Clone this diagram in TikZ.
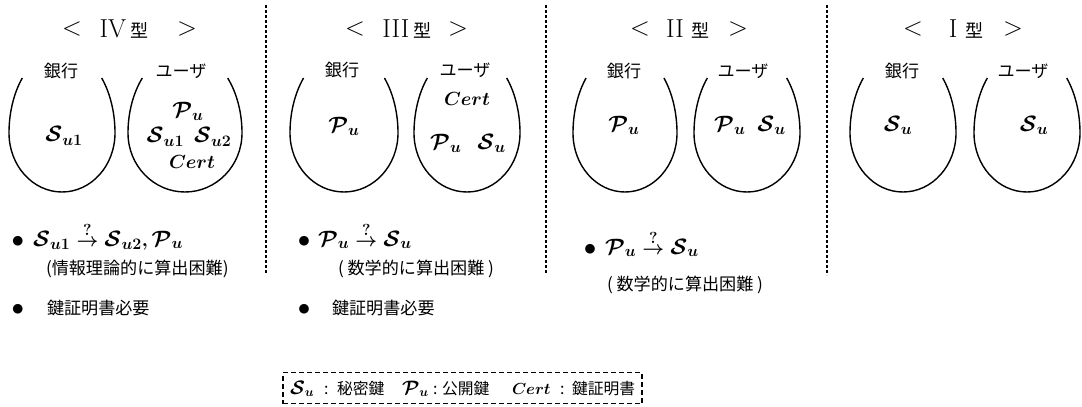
\RequirePackage{fix-cm}
\documentclass[tikz,border=0pt]{standalone}
\usepackage{amsmath}
\usepackage{fontspec}
\newfontfamily\cjk{Noto Sans CJK JP}[Scale=0.9]
\DeclareMathSizes{19}{19}{16}{12}
\DeclareMathSizes{15}{15}{13}{10}
\DeclareMathSizes{16}{16}{13}{10}
\newcommand\bigcal[1]{\scalebox{1.17}{$\mathcal{#1}$}}
\newcommand\lgcal[1]{\scalebox{1.3}{$\mathcal{#1}$}}
\newcommand\drawegg[2]{%
  \draw[eggline] (#1,133) ++(221.5:#2 and 83)
    arc[start angle=221.5,end angle=180,x radius=#2,y radius=83]
    arc[start angle=180,end angle=0,x radius=#2,y radius=59]
    arc[start angle=0,end angle=-41.5,x radius=#2,y radius=83];}
\begin{document}
\begin{tikzpicture}[x=1pt,y=-1pt,
  every node/.style={inner sep=0pt,outer sep=0pt,font=\fontsize{19}{22}\selectfont\boldmath},
  ttl/.style={font=\fontsize{26}{30}\selectfont},
  lbl/.style={font=\cjk\fontsize{19}{22}\selectfont},
  txt/.style={anchor=base west,font=\cjk\fontsize{19}{22}\selectfont},
  mth/.style={anchor=base west},
  bul/.style={anchor=base,font=\fontsize{25}{28}\selectfont},
  lgm/.style={anchor=base west,font=\fontsize{15}{18}\selectfont\boldmath},
  lgi/.style={anchor=base west,font=\fontsize{16}{19}\selectfont\boldmath},
  lgc/.style={anchor=base west,font=\cjk\fontsize{17.5}{20}\selectfont},
  eggline/.style={line width=1.4pt},
  sepline/.style={line width=1.3pt,dash pattern=on 3pt off 2pt},
  legendbox/.style={draw,line width=1.1pt,dash pattern=on 5pt off 3pt,minimum width=359pt,minimum height=31pt}]
\useasboundingbox (0,0) rectangle (1082,407);

% separators
\coordinate (s1a) at (266,5); \coordinate (s1b) at (266,273);
\coordinate (s2a) at (546,5); \coordinate (s2b) at (546,273);
\coordinate (s3a) at (827,5); \coordinate (s3b) at (827,275);
\draw[sepline] (s1a) -- (s1b);
\draw[sepline] (s2a) -- (s2b);
\draw[sepline] (s3a) -- (s3b);

% titles
\node[ttl] (t4l) at (72,29) {$<$};
\node[ttl] (t4m) at (124,29) {IV\,{\cjk\fontsize{20}{22}\selectfont 型}};
\node[ttl] (t4r) at (187,29) {$>$};
\node[ttl] (t3l) at (355,29) {$<$};
\node[ttl] (t3m) at (407,29) {III\,{\cjk\fontsize{20}{22}\selectfont 型}};
\node[ttl] (t3r) at (458,29) {$>$};
\node[ttl] (t2l) at (640,29) {$<$};
\node[ttl] (t2m) at (688,29) {II\ {\cjk\fontsize{20}{22}\selectfont 型}};
\node[ttl] (t2r) at (738,29) {$>$};
\node[ttl] (t1l) at (913,29) {$<$};
\node[ttl] (t1m) at (966,29) {I\ {\cjk\fontsize{20}{22}\selectfont 型}};
\node[ttl] (t1r) at (1013,29) {$>$};

% eggs
\drawegg{62}{53}  \drawegg{185}{57}
\drawegg{344}{54} \drawegg{467}{53}
\drawegg{625}{52} \drawegg{747}{53}
\drawegg{903}{53} \drawegg{1027}{53}

% labels
\node[lbl] (b4) at (61,71) {銀行};   \node[lbl] (u4) at (181,71) {ユーザ};
\node[lbl] (b3) at (342,70) {銀行};  \node[lbl] (u3) at (465,70) {ユーザ};
\node[lbl] (b2) at (624,71) {銀行};  \node[lbl] (u2) at (743,71) {ユーザ};
\node[lbl] (b1) at (902,71) {銀行};  \node[lbl] (u1) at (1023,71) {ユーザ};

% contents
\node (c4b) at (64,136) {$\bigcal{S}_{u1}$};
\node (c4u1) at (188,111) {$\bigcal{P}_u$};
\node (c4u2) at (189,137) {$\bigcal{S}_{u1}\hspace{10pt}\bigcal{S}_{u2}$};
\node (c4u3) at (192,162) {$Cert$};
\node (c3b) at (344,126) {$\bigcal{P}_u$};
\node (c3u1) at (467,99) {$Cert$};
\node (c3u2) at (468,143) {$\bigcal{P}_u\hspace{16pt}\bigcal{S}_u$};
\node (c2b) at (624,125) {$\bigcal{P}_u$};
\node (c2u) at (750,125) {$\bigcal{P}_u\hspace{12pt}\bigcal{S}_u$};
\node (c1b) at (898,125) {$\bigcal{S}_u$};
\node (c1u) at (1034,125) {$\bigcal{S}_u$};

% bullets IV
\node[bul] (d4a) at (18,247) {$\bullet$};
\node[mth] (e4a) at (33,246) {$\bigcal{S}_{u1}\stackrel{?}{\to}\bigcal{S}_{u2},\bigcal{P}_u$};
\node[txt] (f4a) at (46,274) {(情報理論的に算出困難)};
\node[bul] (d4b) at (18,315) {$\bullet$};
\node[txt] (e4b) at (47,314) {鍵証明書必要};
% bullets III
\node[bul] (d3a) at (304,247) {$\bullet$};
\node[mth] (e3a) at (318,246) {$\bigcal{P}_u\stackrel{?}{\to}\bigcal{S}_u$};
\node[txt] (f3a) at (338,274) {(\ 数学的に算出困難\ )};
\node[bul] (d3b) at (304,315) {$\bullet$};
\node[txt] (e3b) at (332,314) {鍵証明書必要};
% bullets II
\node[bul] (d2a) at (590,255) {$\bullet$};
\node[mth] (e2a) at (605,254) {$\bigcal{P}_u\stackrel{?}{\to}\bigcal{S}_u$};
\node[txt] (f2a) at (607,290) {(\ 数学的に算出困難\ )};

% legend
\node[legendbox] (lg) at (462.5,388) {};
\node[lgm] (l1) at (290,394) {$\lgcal{S}_u$};
\node[lgc] (l2) at (324,394) {:};
\node[lgc] (l3) at (337,394) {秘密鍵};
\node[lgm] (l4) at (402,394) {$\lgcal{P}_u$};
\node[lgc] (l5) at (433,394) {:};
\node[lgc] (l6) at (442,394) {公開鍵};
\node[lgi] (l7) at (512,394) {$Cert$};
\node[lgc] (l8) at (560,394) {:};
\node[lgc] (l9) at (572,394) {鍵証明書};
\end{tikzpicture}
\end{document}
